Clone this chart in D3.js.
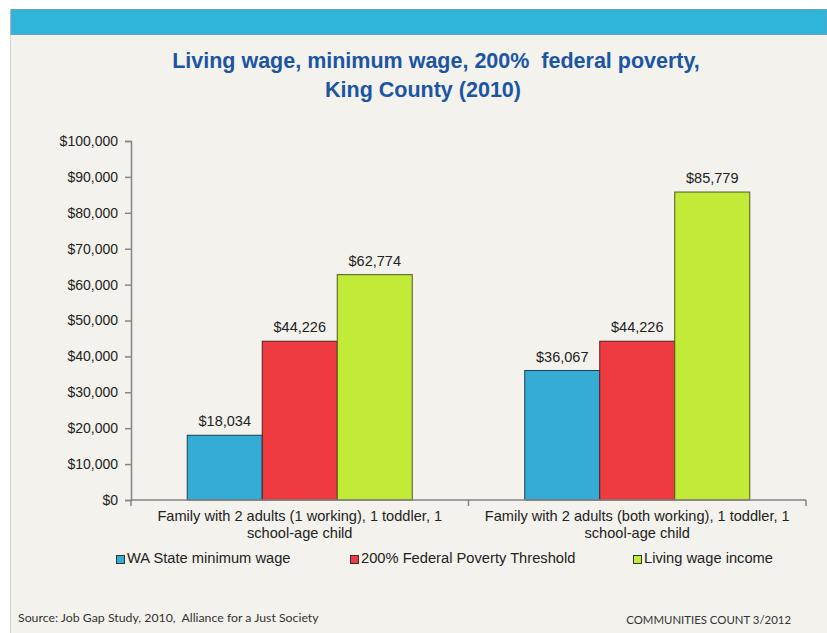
<!DOCTYPE html>
<html>
<head>
<meta charset="utf-8">
<script src="https://cdn.jsdelivr.net/npm/d3@7"></script>
<style>
  body { margin: 0; background: #ffffff; }
  svg { display: block; }
</style>
</head>
<body>
<div class="wage_chart"></div>
<script>
// Data
var categories = [
  "Family with 2 adults (1 working), 1 toddler, 1 school-age child",
  "Family with 2 adults (both working), 1 toddler, 1 school-age child"
];
var seriesNames = ["WA State minimum wage", "200% Federal Poverty Threshold", "Living wage income"];
var minWage = [18034, 36067];
var povertyThreshold = [44226, 44226];
var livingWage = [62774, 85779];
var yTicks = [0, 10000, 20000, 30000, 40000, 50000, 60000, 70000, 80000, 90000, 100000];

var colors = ["#34acd6", "#ef3b3f", "#c1eb37"];
var strokes = ["#1f3d55", "#4a2222", "#4d5a22"];

// Dimensions
var W = 827, H = 633;
var margin = {top: 141, right: 21, bottom: 133, left: 131},
width = W - margin.left - margin.right,
height = H - margin.top - margin.bottom;

var svg = d3.select(".wage_chart")
  .append("svg")
  .attr("width", W)
  .attr("height", H);

// Slide background
svg.append("rect")
  .attr("x", 10).attr("y", 9)
  .attr("width", W - 10).attr("height", H - 9)
  .attr("fill", "#f3f2ec");
svg.append("line")
  .attr("x1", 10.5).attr("x2", 10.5)
  .attr("y1", 9).attr("y2", H)
  .attr("stroke", "#d6d5cf");
svg.append("rect")
  .attr("x", 11).attr("y", 9.5)
  .attr("width", W - 11).attr("height", 25)
  .attr("fill", "#2fb5d7")
  .attr("stroke", "#6e9fd2")
  .attr("stroke-width", 1);

// Title
var title = svg.append("text")
  .attr("text-anchor", "middle")
  .style("font", "bold 21.5px 'Liberation Sans', Arial, sans-serif")
  .style("white-space", "pre")
  .attr("fill", "#1b55a3");
title.append("tspan").attr("x", 436).attr("y", 68).text("Living wage, minimum wage, 200%  federal poverty,");
title.append("tspan").attr("x", 423).attr("y", 97).text("King County (2010)");

var g = svg.append("g")
  .attr("transform", "translate(" + margin.left + "," + margin.top + ")");

// Scales
var y = d3.scaleLinear()
  .domain([0, 100000])
  .range([height, 0]);

var x0 = d3.scaleBand()
  .domain(categories)
  .range([0, width])
  .padding(0);

var x1 = d3.scaleBand()
  .domain(seriesNames)
  .range([0, x0.bandwidth()])
  .paddingInner(0)
  .paddingOuter(0.75);

var axisColor = "#858585";

// Y axis
g.append("g")
  .style("font", "14px 'Liberation Sans', Arial, sans-serif")
  .call(d3.axisLeft(y).tickValues(yTicks).tickSize(6).tickPadding(7)
    .tickFormat(function(d) { return "$" + d3.format(",")(d); }))
  .call(function(a) { a.selectAll(".domain").attr("stroke", axisColor).attr("stroke-width", 1.5); })
  .call(function(a) { a.selectAll(".tick line").attr("stroke", axisColor).attr("stroke-width", 1.5); })
  .call(function(a) { a.selectAll(".tick text").attr("fill", "#222"); });

// Bars
var tableRows = categories.map(function(c, i) {
  return {category: c, values: [minWage[i], povertyThreshold[i], livingWage[i]]};
});

var barGroups = g.selectAll(".bar")
  .data(tableRows)
  .enter()
  .append("g")
  .attr("class", "bar")
  .attr("transform", function(d) { return "translate(" + x0(d.category) + ",0)"; });

barGroups.selectAll("rect")
  .data(function(d) { return d.values.map(function(v, j) { return {key: seriesNames[j], value: v, idx: j}; }); })
  .enter()
  .append("rect")
  .attr("x", function(d) { return x1(d.key); })
  .attr("y", function(d) { return y(d.value); })
  .attr("width", x1.bandwidth())
  .attr("height", function(d) { return y(0) - y(d.value); })
  .attr("fill", function(d) { return colors[d.idx]; })
  .attr("stroke", function(d) { return strokes[d.idx]; })
  .attr("stroke-width", 1);

// Data labels
barGroups.selectAll("text")
  .data(function(d) { return d.values.map(function(v, j) { return {key: seriesNames[j], value: v}; }); })
  .enter()
  .append("text")
  .attr("x", function(d) { return x1(d.key) + x1.bandwidth() / 2; })
  .attr("y", function(d) { return y(d.value) - 9; })
  .attr("text-anchor", "middle")
  .style("font", "14.5px 'Liberation Sans', Arial, sans-serif")
  .attr("fill", "#222")
  .text(function(d) { return "$" + d3.format(",")(d.value); });

// X axis
g.append("g")
  .attr("transform", "translate(0," + height + ")")
  .style("font", "14.6px 'Liberation Sans', Arial, sans-serif")
  .call(d3.axisBottom(x0).tickSize(0).tickPadding(0))
  .call(function(a) { a.selectAll(".domain").attr("stroke", axisColor).attr("stroke-width", 1.5).attr("d", "M0,0H" + width); })
  .call(function(a) { a.selectAll(".tick text").attr("fill", "#222").attr("dy", null).attr("y", 21).call(wrap, 310); });

// Category boundary ticks
g.append("g")
  .selectAll("line")
  .data([0, 1, 2])
  .enter()
  .append("line")
  .attr("x1", function(d) { return d * x0.step(); })
  .attr("x2", function(d) { return d * x0.step(); })
  .attr("y1", height)
  .attr("y2", height + 6)
  .attr("stroke", axisColor)
  .attr("stroke-width", 1.5);

// Legend
var legendX = [116, 350, 633];
var legend = svg.append("g")
  .style("font", "14.7px 'Liberation Sans', Arial, sans-serif")
  .selectAll("g")
  .data(seriesNames)
  .enter()
  .append("g")
  .attr("transform", function(d, i) { return "translate(" + legendX[i] + ",555)"; });

legend.append("rect")
  .attr("x", 0.5).attr("y", 0.5)
  .attr("width", 8).attr("height", 8)
  .attr("fill", function(d, i) { return colors[i]; })
  .attr("stroke", "#333")
  .attr("stroke-width", 1);

legend.append("text")
  .attr("x", 11)
  .attr("y", 8)
  .attr("fill", "#222")
  .text(function(d) { return d; });

// Footer
svg.append("text")
  .attr("x", 18).attr("y", 622)
  .style("font", "12.3px Lato, sans-serif")
  .style("white-space", "pre")
  .attr("fill", "#333")
  .text("Source: Job Gap Study, 2010,  Alliance for a Just Society");

svg.append("text")
  .attr("x", 791).attr("y", 624)
  .attr("text-anchor", "end")
  .style("font", "11.4px Lato, sans-serif")
  .attr("fill", "#333")
  .text("COMMUNITIES COUNT 3/2012");

function wrap(text, w) {
  text.each(function() {
    var t = d3.select(this),
      words = t.text().split(/\s+/).reverse(),
      word, line = [], lineNumber = 0,
      yy = t.attr("y"),
      tspan = t.text(null).append("tspan").attr("x", 0).attr("y", yy);
    while ((word = words.pop())) {
      line.push(word);
      tspan.text(line.join(" "));
      if (tspan.node().getComputedTextLength() > w && line.length > 1) {
        line.pop();
        tspan.text(line.join(" "));
        line = [word];
        tspan = t.append("tspan").attr("x", 0).attr("y", +yy + (++lineNumber) * 17).text(word);
      }
    }
  });
}
</script>
</body>
</html>
